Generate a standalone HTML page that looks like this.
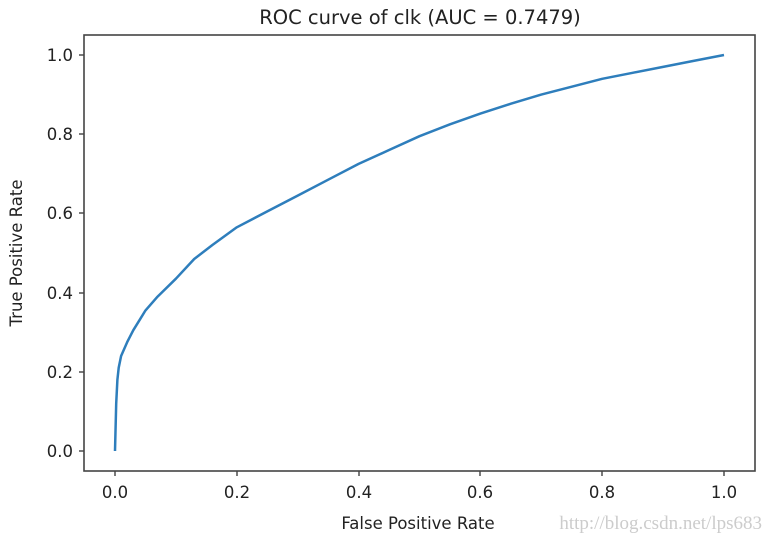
<!DOCTYPE html>
<html><head><style>body{margin:0;background:#fff}</style></head><body>
<svg width="766" height="540" xmlns="http://www.w3.org/2000/svg" font-family="'DejaVu Sans','Liberation Sans',sans-serif">
<rect width="766" height="540" fill="#fff"/>
<text x="420" y="24" font-size="19.5" text-anchor="middle" fill="#222">ROC curve of clk (AUC = 0.7479)</text>
<g stroke="#333" stroke-width="1.3">
<line x1="115" y1="471" x2="115" y2="476"/><line x1="237" y1="471" x2="237" y2="476"/><line x1="359" y1="471" x2="359" y2="476"/><line x1="480" y1="471" x2="480" y2="476"/><line x1="602" y1="471" x2="602" y2="476"/><line x1="724" y1="471" x2="724" y2="476"/>
<line x1="79" y1="451" x2="84" y2="451"/><line x1="79" y1="372" x2="84" y2="372"/><line x1="79" y1="293" x2="84" y2="293"/><line x1="79" y1="213" x2="84" y2="213"/><line x1="79" y1="134" x2="84" y2="134"/><line x1="79" y1="55" x2="84" y2="55"/>
</g>
<g font-size="16.5" fill="#222" text-anchor="middle">
<text x="115" y="498">0.0</text><text x="237" y="498">0.2</text><text x="359" y="498">0.4</text><text x="480" y="498">0.6</text><text x="602" y="498">0.8</text><text x="724" y="498">1.0</text>
</g>
<g font-size="16.5" fill="#222" text-anchor="end">
<text x="73" y="457">0.0</text><text x="73" y="378">0.2</text><text x="73" y="299">0.4</text><text x="73" y="219">0.6</text><text x="73" y="140">0.8</text><text x="73" y="61">1.0</text>
</g>
<text x="418" y="529" font-size="16.5" text-anchor="middle" fill="#222">False Positive Rate</text>
<text transform="translate(22,253) rotate(-90)" font-size="16.5" text-anchor="middle" fill="#222">True Positive Rate</text>
<polyline fill="none" stroke="#2e7ebc" stroke-width="2.5" stroke-linejoin="round" points="115,451 116.2,403.5 117.4,379.7 118.7,367.8 121.1,356 127.2,342.1 133.3,330.2 139.4,320.3 145.5,310.4 157.6,296.6 175.9,278.7 194.2,259 212.4,245 236.8,227.3 267.3,211.4 297.7,195.6 328.2,179.7 358.6,163.9 389.1,150 419.5,136.2 450,124.3 480.4,113.6 510.9,103.7 541.3,94.6 571.8,86.7 602.2,78.8 632.7,72.8 663.1,66.9 693.6,60.9 724,55"/>
<rect x="84" y="35" width="671" height="436" fill="none" stroke="#444" stroke-width="1.6"/>
<text x="762" y="529" font-size="19" font-family="'Liberation Serif',serif" text-anchor="end" fill="#ccc">http://blog.csdn.net/lps683</text>
</svg>
</body></html>
